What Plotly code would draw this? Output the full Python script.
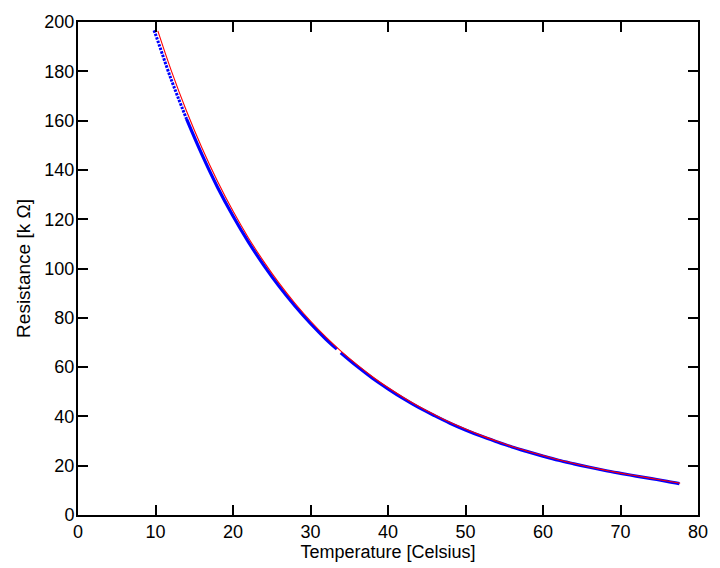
import plotly.graph_objects as go

# Measured data (blue dots): temperature [C] and resistance [kOhm]
meas_temp = [9.8, 10, 12, 14, 16, 18, 20, 22, 24, 26, 28, 30, 32, 33.4, None,
             33.9, 36, 38, 40, 42, 44, 46, 48, 50, 52, 54, 56, 58, 60, 62,
             64, 66, 68, 70, 72, 74, 76, 77.6]
meas_res = [196.6, 195.0, 176.9, 160.7, 146.2, 133.0, 121.3, 110.7, 101.2, 92.55,
            84.8, 77.7, 71.3, 67.3, None, 65.8, 60.3, 55.5, 51.2, 47.2, 43.55,
            40.3, 37.25, 34.5, 32.0, 29.75, 27.6, 25.7, 23.9, 22.2, 20.75,
            19.35, 18.05, 16.9, 15.8, 14.75, 13.65, 12.7]

# Fitted curve (red line)
fit_temp = [10.3, 12, 14, 16, 18, 20, 22, 24, 26, 28, 30, 32, 34, 36, 38, 40,
            42, 44, 46, 48, 50, 52, 54, 56, 58, 60, 62, 64, 66, 68, 70, 72,
            74, 76, 77.7]
fit_res = [196.4, 180.6, 163.9, 148.9, 135.4, 123.3, 112.4, 102.7, 93.85, 85.9,
           78.7, 72.2, 66.3, 61.0, 56.1, 51.7, 47.7, 44.0, 40.7, 37.6, 34.85,
           32.3, 30.0, 27.8, 25.9, 24.1, 22.4, 20.9, 19.5, 18.2, 17.0, 15.9,
           14.85, 13.8, 12.9]

x_ticks = list(range(0, 81, 10))
y_ticks = list(range(0, 201, 20))

# split measured data: sparse (dotted) top portion and dense remainder
split = 4  # index where the dots merge into a band
top_t, top_r = meas_temp[:split], meas_res[:split]
rest_t, rest_r = meas_temp[split - 1:], meas_res[split - 1:]

FONT = "Liberation Sans, Arial"

fig = go.Figure()
fig.add_trace(go.Scatter(x=top_t, y=top_r, mode="lines", line_shape="spline",
                         line=dict(color="#0000ff", width=3, dash="2.5px,1.2px"),
                         showlegend=False, hoverinfo="skip"))
fig.add_trace(go.Scatter(x=rest_t, y=rest_r, mode="lines", line_shape="spline",
                         line=dict(color="#0000ff", width=3.2),
                         connectgaps=False, showlegend=False))
fig.add_trace(go.Scatter(x=fit_temp, y=fit_res, mode="lines", line_shape="spline",
                         line=dict(color="#ff0000", width=1.1), showlegend=False))

axis_common = dict(showline=True, linecolor="black", linewidth=2, mirror="ticks",
                   ticks="inside", ticklen=10, tickwidth=2, tickcolor="black",
                   showgrid=False, zeroline=False,
                   tickfont=dict(family=FONT, size=18, color="black"))

fig.update_layout(
    width=720, height=568,
    margin=dict(l=78, r=13, t=20, b=53),
    paper_bgcolor="white", plot_bgcolor="white",
    font=dict(family=FONT, size=18, color="black"),
    xaxis=dict(range=[0, 80], tickvals=x_ticks, ticklabelstandoff=-1,
               title=dict(text="Temperature [Celsius]", standoff=0,
                          font=dict(size=18)), **axis_common),
    yaxis=dict(range=[0, 200], tickvals=y_ticks, ticklabelstandoff=-2,
               title=dict(text="Resistance [k Ω]", standoff=9,
                          font=dict(size=19)), **axis_common),
)

fig.write_html("out.html")
